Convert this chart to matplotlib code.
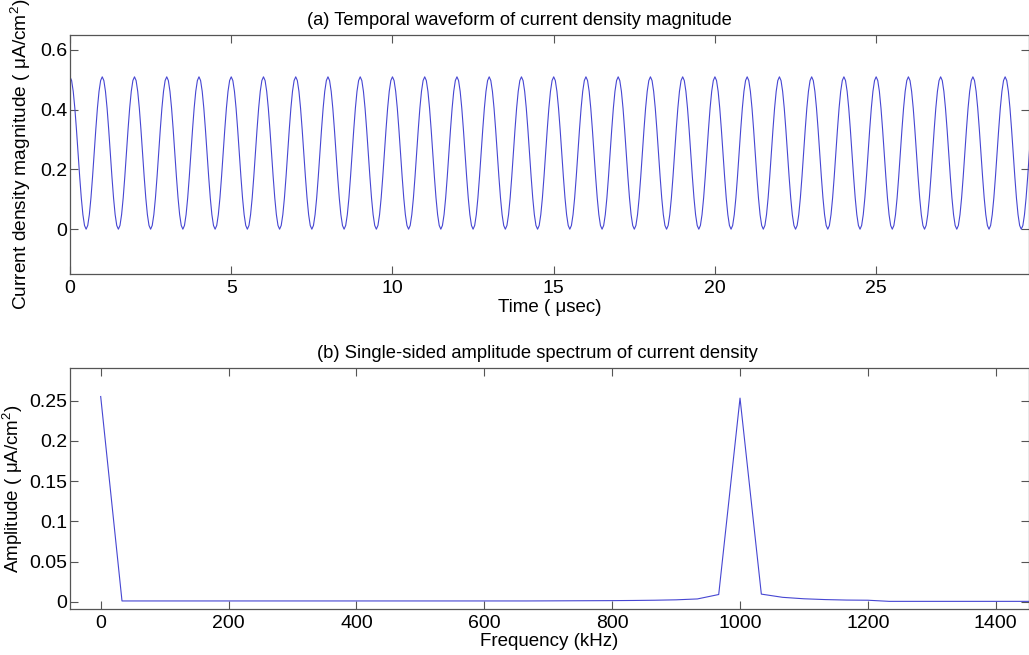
import numpy as np
import matplotlib
matplotlib.use("Agg")
from matplotlib import pyplot as plt

plt.rcParams['font.family'] = ['Liberation Sans', 'DejaVu Sans']
plt.rcParams['mathtext.default'] = 'regular'

# una periodo de la forma de onda (uA/cm2), 20 muestras por microsegundo
periodo = [0.51, 0.4975, 0.4613, 0.4049, 0.3338, 0.255, 0.1762, 0.1051, 0.0487, 0.0125,
           0.0, 0.0125, 0.0487, 0.1051, 0.1762, 0.255, 0.3338, 0.4049, 0.4613, 0.4975]
n_periodos = 30
dt = 1.0 / len(periodo)          # usec

# espectro de amplitud (uA/cm2), bins cada 1000/30 kHz
paso_f = 1000.0 / 30
amplitud = [0.255,
            0.001, 0.001, 0.001, 0.001, 0.001, 0.001, 0.001, 0.001, 0.001, 0.001,
            0.001, 0.001, 0.001, 0.001, 0.001, 0.001, 0.001, 0.001, 0.001, 0.001,
            0.0011, 0.0012, 0.0013, 0.0014, 0.0016, 0.0019, 0.0024, 0.0035, 0.009,
            0.253,
            0.0095, 0.0055, 0.0037, 0.0027, 0.0021, 0.0019, 0.0005, 0.0005, 0.0005,
            0.0005, 0.0005, 0.0005, 0.0005, 0.0005]

onda = np.tile(periodo, n_periodos)
t = np.arange(len(onda)) * dt
f = np.arange(len(amplitud)) * paso_f

azul = '#4646d2'
gris = '#555555'

fig = plt.figure(figsize=(10.29, 6.55), dpi=100)
ax1 = fig.add_axes([70/1029, 1-274/655, 959/1029, 239/655])
ax2 = fig.add_axes([70/1029, 1-609/655, 959/1029, 241/655])

def estilo(ax):
    for s in ax.spines.values():
        s.set_color(gris)
        s.set_linewidth(0.9)
    ax.tick_params(direction='in', length=6, width=0.8, color=gris,
                   top=True, right=True, labelsize=14)
    ax.tick_params(axis='x', pad=4)
    ax.tick_params(axis='y', pad=2)

ax1.plot(t, onda, color=azul, lw=0.8)
ax1.set_xlim(0, 29.74)
ax1.set_ylim(-0.15, 0.65)
ax1.set_xticks([0, 5, 10, 15, 20, 25])
ax1.set_yticks([0, 0.2, 0.4, 0.6])
ax1.set_yticklabels(['0', '0.2', '0.4', '0.6'])
ax1.set_xlabel('Time ( \u03bcsec)', fontsize=13.5, labelpad=2)
ax1.set_ylabel('Current density magnitude ( \u03bcA/cm$^2$)', fontsize=13.8, labelpad=5)
ax1.set_title('(a) Temporal waveform of current density magnitude', fontsize=13.2, x=0.469, pad=7)
estilo(ax1)

ax2.plot(f, amplitud, color=azul, lw=0.8)
ax2.set_xlim(-48, 1452)
ax2.set_ylim(-0.009, 0.2904)
ax2.set_xticks([0, 200, 400, 600, 800, 1000, 1200, 1400])
ax2.set_yticks([0, 0.05, 0.1, 0.15, 0.2, 0.25])
ax2.set_yticklabels(['0', '0.05', '0.1', '0.15', '0.2', '0.25'])
ax2.set_xlabel('Frequency (kHz)', fontsize=13.5, labelpad=1)
ax2.set_ylabel('Amplitude ( \u03bcA/cm$^2$)', fontsize=13.5, labelpad=3)
ax2.set_title('(b) Single-sided amplitude spectrum of current density', fontsize=13.2, x=0.487, pad=7)
estilo(ax2)

plt.savefig('out.png', dpi=100)
